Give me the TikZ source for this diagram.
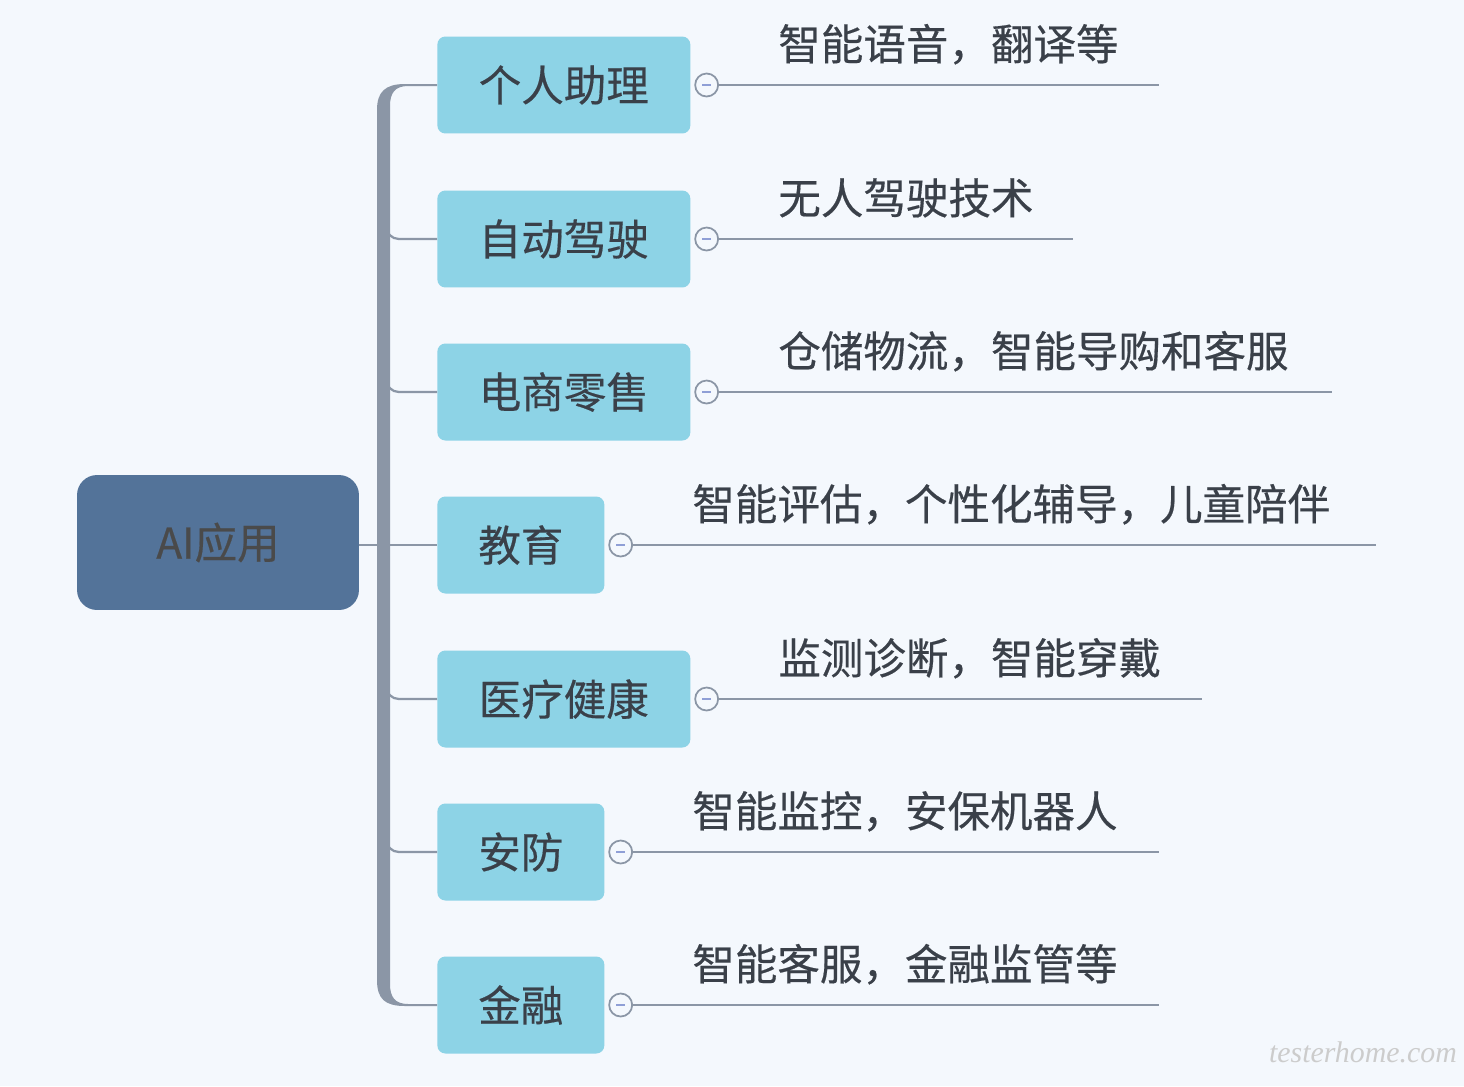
\documentclass[tikz,border=0pt]{standalone}
\usepackage{fontspec}
\setmainfont{Noto Sans CJK SC}[FakeBold=0.4]
\newfontfamily\wmfont{Liberation Serif}
\usepackage{tikz}

\definecolor{bg}{HTML}{F4F8FD}
\definecolor{rootblue}{HTML}{537399}
\definecolor{kidblue}{HTML}{8DD3E6}
\definecolor{line}{HTML}{8B96A6}
\definecolor{ink}{HTML}{3A4049}
\definecolor{roottext}{HTML}{4A4A4A}
\definecolor{minus}{HTML}{8F9FD6}

\newcommand{\lbl}{\fontsize{24.2pt}{28pt}\selectfont}

\tikzset{
  root/.style={fill=rootblue, rounded corners=0.4cm, minimum width=5.64cm,
               minimum height=2.7cm, text=roottext, font=\lbl},
  kid/.style={fill=kidblue, rounded corners=0.16cm, minimum width=5.06cm,
              minimum height=1.94cm, anchor=west, text=ink, font=\lbl},
  kidshort/.style={kid, minimum width=3.34cm},
  knob/.style={circle, draw=line, fill=bg, line width=0.035cm, minimum size=0.46cm,
               inner sep=0pt,
               path picture={\draw[minus, line width=0.045cm]
                 ([xshift=-0.09cm]path picture bounding box.center) --
                 ([xshift=0.09cm]path picture bounding box.center);}},
  branch/.style={draw=line, line width=0.045cm},
  leaf/.style={draw=line, line width=0.045cm},
  note/.style={anchor=base west, text=ink, font=\lbl, inner sep=0pt}
}

\begin{document}
\begin{tikzpicture}[x=0.02cm, y=-0.02cm]
    \useasboundingbox[fill=bg] (0,0) rectangle (1464,1086);

    % main topic and subtopics
    \node[root] (ai) at (218,542.5) {AI应用};
    \node[kid]      (k1) at (437,85)   {个人助理};
    \node[kid]      (k2) at (437,239)  {自动驾驶};
    \node[kid]      (k3) at (437,392)  {电商零售};
    \node[kidshort] (k4) at (437,545)  {教育};
    \node[kid]      (k5) at (437,699)  {医疗健康};
    \node[kidshort] (k6) at (437,852)  {安防};
    \node[kidshort] (k7) at (437,1005) {金融};

    % spine
    \fill[line] (437,84) -- (405,84) .. controls (385,84) and (377,92) .. (377,110)
        -- (377,980) .. controls (377,999) and (385,1006) .. (405,1006) -- (437,1006)
        -- (437,1004) -- (408,1004) .. controls (395,1004) and (390,997) .. (390,984)
        -- (390,106) .. controls (390,93) and (395,86) .. (408,86) -- (437,86) -- cycle;
    \draw[branch, rounded corners=0.26cm] (k2.west) -- (386,239) -- (386,212);
    \draw[branch, rounded corners=0.26cm] (k3.west) -- (386,392) -- (386,365);
    \draw[branch, rounded corners=0.26cm] (k5.west) -- (386,699) -- (386,672);
    \draw[branch, rounded corners=0.26cm] (k6.west) -- (386,852) -- (386,825);
    \draw[branch] (ai.east |- k4.west) -- (k4.west);

    % collapse knobs
    \node[knob] (o1) at ([xshift=0.32cm]k1.east) {};
    \node[knob] (o2) at ([xshift=0.32cm]k2.east) {};
    \node[knob] (o3) at ([xshift=0.32cm]k3.east) {};
    \node[knob] (o4) at ([xshift=0.32cm]k4.east) {};
    \node[knob] (o5) at ([xshift=0.32cm]k5.east) {};
    \node[knob] (o6) at ([xshift=0.32cm]k6.east) {};
    \node[knob] (o7) at ([xshift=0.32cm]k7.east) {};

    % line ends
    \coordinate (e1) at (1159,85);
    \coordinate (e2) at (1073,239);
    \coordinate (e3) at (1332,392);
    \coordinate (e4) at (1376,545);
    \coordinate (e5) at (1202,699);
    \coordinate (e6) at (1159,852);
    \coordinate (e7) at (1159,1005);
    \draw[leaf] (o1) -- (e1);
    \draw[leaf] (o2) -- (e2);
    \draw[leaf] (o3) -- (e3);
    \draw[leaf] (o4) -- (e4);
    \draw[leaf] (o5) -- (e5);
    \draw[leaf] (o6) -- (e6);
    \draw[leaf] (o7) -- (e7);

    % notes
    \path (o1.east) ++(59,-25) node[note] (d1) {智能语音，翻译等};
    \path (o2.east) ++(59,-25) node[note] (d2) {无人驾驶技术};
    \path (o3.east) ++(59,-25) node[note] (d3) {仓储物流，智能导购和客服};
    \path (o4.east) ++(59,-25) node[note] (d4) {智能评估，个性化辅导，儿童陪伴};
    \path (o5.east) ++(59,-25) node[note] (d5) {监测诊断，智能穿戴};
    \path (o6.east) ++(59,-25) node[note] (d6) {智能监控，安保机器人};
    \path (o7.east) ++(59,-25) node[note] (d7) {智能客服，金融监管等};

    \node[text=black!20, font=\wmfont\itshape\fontsize{17pt}{20pt}\selectfont] (wm)
        at (1363,1052) {testerhome.com};
\end{tikzpicture}
\end{document}
